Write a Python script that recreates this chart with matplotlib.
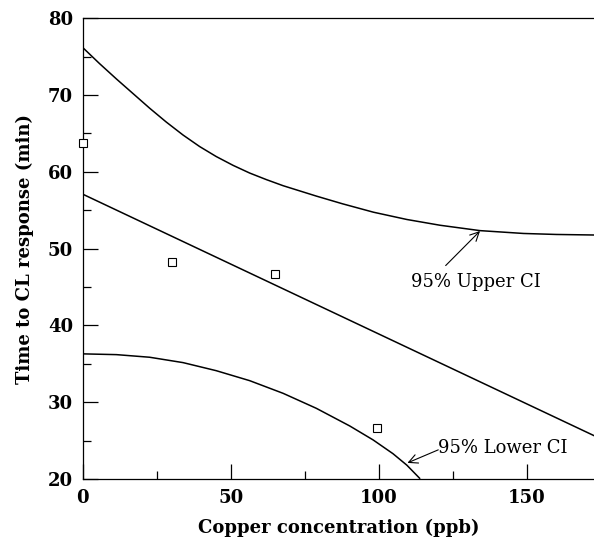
import numpy as np
import matplotlib
matplotlib.use("Agg")
import matplotlib.pyplot as plt

# observed points
conc = [0, 30, 65, 99.5]
time_cl = [63.8, 48.3, 46.7, 26.7]

# fitted line (read at the two ends)
fit_x = [0, 172.7]
fit_y = [57.1, 25.65]

# 95% upper confidence curve
upper_x = [0, 5.7, 11.4, 17, 22.6, 28.2, 33.9, 39.5, 45.1, 50.8, 56.4, 62, 67.7, 78.9, 87.7, 98.2, 109.5, 120.7, 134.2, 148.9, 160, 172.7]
upper_y = [76.2, 74.1, 72.1, 70.2, 68.3, 66.5, 64.8, 63.3, 62.0, 60.85, 59.85, 59.0, 58.2, 56.85, 55.85, 54.75, 53.8, 53.05, 52.35, 51.98, 51.85, 51.78]

# 95% lower confidence curve
lower_x = [0, 11.4, 22.6, 33.9, 45.1, 56.4, 67.7, 78.9, 90.2, 98.1, 104.8, 109.5, 113.8]
lower_y = [36.3, 36.2, 35.86, 35.16, 34.11, 32.81, 31.16, 29.21, 26.91, 25.09, 23.3, 21.8, 20.1]

plt.rcParams['font.family'] = ['DejaVu Serif']

fig = plt.figure(figsize=(5.94, 5.42), dpi=100)
ax = fig.add_axes([0.1392, 0.1162, 0.8608, 0.85])

ax.plot(fit_x, fit_y, color='black', lw=1.1)
ax.plot(upper_x, upper_y, color='black', lw=1.1)
ax.plot(lower_x, lower_y, color='black', lw=1.1)
ax.plot(conc, time_cl, linestyle='none', marker='s', markersize=6,
        markerfacecolor='white', markeredgecolor='black', markeredgewidth=0.8,
        clip_on=False, zorder=5)

ax.set_xlim(0, 172.7)
ax.set_ylim(20, 80)
ax.set_xticks([0, 50, 100, 150])
ax.set_xticks([25, 75, 125], minor=True)
ax.set_yticks(np.arange(20, 81, 10))
ax.set_yticks(np.arange(25, 80, 10), minor=True)

ax.spines['right'].set_visible(False)
for s in ['left', 'bottom', 'top']:
    ax.spines[s].set_linewidth(0.9)

ax.tick_params(which='major', direction='in', length=11, width=0.9, pad=7,
               labelsize=13)
ax.tick_params(which='minor', direction='in', length=6, width=0.9)
ax.tick_params(axis='x', top=False)
ax.tick_params(axis='y', right=False)
for lab in ax.get_xticklabels() + ax.get_yticklabels():
    lab.set_fontweight('bold')

ax.set_xlabel('Copper concentration (ppb)', fontsize=13, fontweight='bold', labelpad=9)
ax.set_ylabel('Time to CL response (min)', fontsize=13, fontweight='bold', labelpad=10)

arrow = dict(arrowstyle='->', color='black', lw=0.8, mutation_scale=16,
             shrinkA=0, shrinkB=0)
ax.annotate('', xy=(134.2, 52.3), xytext=(122.6, 47.8), arrowprops=arrow)
ax.text(132.9, 45.7, '95% Upper CI', ha='center', va='center', fontsize=13)
ax.annotate('', xy=(109.7, 22.1), xytext=(120.1, 23.8), arrowprops=arrow)
ax.text(120.0, 24.1, '95% Lower CI', ha='left', va='center', fontsize=13)

fig.savefig('out.png', dpi=100)
